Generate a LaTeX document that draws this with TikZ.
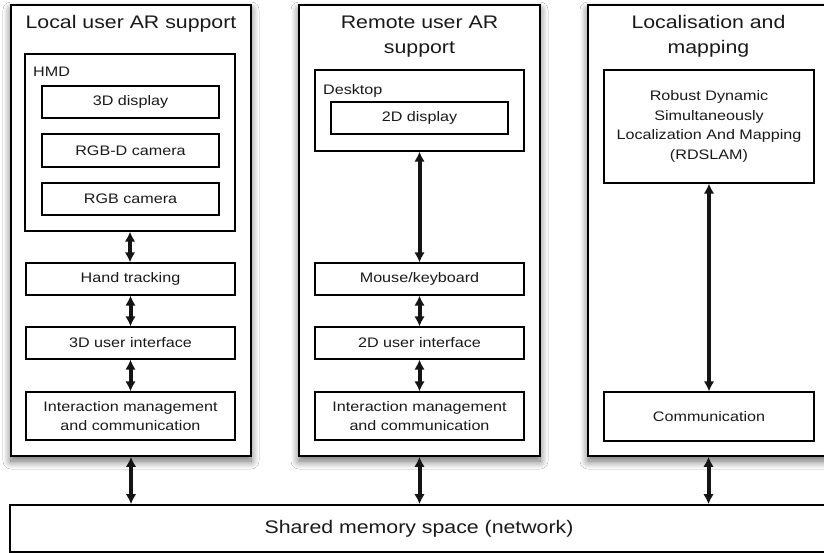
\documentclass[tikz,border=0pt]{standalone}
\usepackage{fontspec}
\setmainfont[FakeStretch=1.17]{Liberation Sans}
\usetikzlibrary{arrows.meta,shadows.blur}
\definecolor{txt}{HTML}{1A1A1A}
\begin{document}
\begin{tikzpicture}[x=1pt,y=-1pt,
  panel/.style={draw=black, line width=1.6pt, fill=white, inner sep=0pt,
    blur shadow={shadow xshift=0pt, shadow yshift=-5pt, shadow blur radius=8pt, shadow blur steps=12, shadow opacity=60}},
  box/.style={draw=black, line width=1.2pt, fill=white, inner sep=0pt, align=center,
    font=\fontsize{13.8}{19.5}\selectfont, text=txt},
  ttl/.style={font=\fontsize{18.2}{25}\selectfont, align=center, text=txt, inner sep=0pt, anchor=north},
  lbl/.style={font=\fontsize{13.8}{19.5}\selectfont, text=txt, inner sep=0pt, anchor=base west},
  shared/.style={draw=black, line width=1.6pt, fill=white, inner sep=0pt,
    font=\fontsize{18.2}{25}\selectfont, text=txt},
  dbl/.style={{Latex[length=10pt,width=10.5pt]}-{Latex[length=10pt,width=10.5pt]}, line width=4pt, draw=black!92}]

\clip (0,0) rectangle (824,553);
\fill[white] (0,0) rectangle (824,553);

% panels
\node[panel, minimum width=240pt, minimum height=451pt] (p1) at (131,230.5) {};
\node[panel, minimum width=241pt, minimum height=451pt] (p2) at (419.5,230.5) {};
\node[panel, minimum width=241pt, minimum height=451pt] (p3) at (708.5,230.5) {};

% shared memory
\node[shared, minimum width=818pt, minimum height=47pt] (sh) at (419,528.5) {Shared memory space (network)};

% titles
\node[ttl] (t1) at (131,15) {Local user AR support};
\node[ttl] (t2) at (419.5,16) {Remote user AR\\support};
\node[ttl] (t3) at (708.5,15) {Localisation and\\mapping};

% panel 1
\node[box, minimum width=210pt, minimum height=177pt] (hmd) at (130,142.5) {};
\node[lbl] (hmdl) at (33,77) {HMD};
\node[box, minimum width=177pt, minimum height=32pt] (d3) at (130.5,102) {3D display};
\node[box, minimum width=177pt, minimum height=33pt] (rgbd) at (130.5,150.5) {RGB-D camera};
\node[box, minimum width=177pt, minimum height=32pt] (rgb) at (130.5,199) {RGB camera};
\node[box, minimum width=209pt, minimum height=32pt] (ht) at (130.5,279) {Hand tracking};
\node[box, minimum width=209pt, minimum height=32pt] (ui3) at (130.5,343) {3D user interface};
\node[box, minimum width=209pt, minimum height=48pt] (im1) at (130.5,416) {Interaction management\\and communication};

% panel 2
\node[box, minimum width=209pt, minimum height=81pt] (desk) at (419.5,110.5) {};
\node[lbl] (deskl) at (323,95) {Desktop};
\node[box, minimum width=177pt, minimum height=32pt] (d2) at (419.5,118) {2D display};
\node[box, minimum width=209pt, minimum height=32pt] (mk) at (419.5,279) {Mouse/keyboard};
\node[box, minimum width=209pt, minimum height=32pt] (ui2) at (419.5,343) {2D user interface};
\node[box, minimum width=209pt, minimum height=48pt] (im2) at (419.5,416) {Interaction management\\and communication};

% panel 3
\node[box, minimum width=210pt, minimum height=113pt] (rds) at (709,126.5) {Robust Dynamic\\Simultaneously\\Localization And Mapping\\(RDSLAM)};
\node[box, minimum width=210pt, minimum height=49pt] (com) at (709,416.5) {Communication};

% arrows
\draw[dbl] (hmd.south) -- (hmd.south |- ht.north);
\draw[dbl] (ht.south) -- (ui3.north);
\draw[dbl] (ui3.south) -- (im1.north);
\draw[dbl] (desk.south) -- (mk.north);
\draw[dbl] (mk.south) -- (ui2.north);
\draw[dbl] (ui2.south) -- (im2.north);
\draw[dbl] (rds.south) -- (com.north);
\draw[dbl] (p1.south) -- (p1.south |- sh.north);
\draw[dbl] (p2.south) -- (p2.south |- sh.north);
\draw[dbl] (p3.south) -- (p3.south |- sh.north);
\end{tikzpicture}
\end{document}
